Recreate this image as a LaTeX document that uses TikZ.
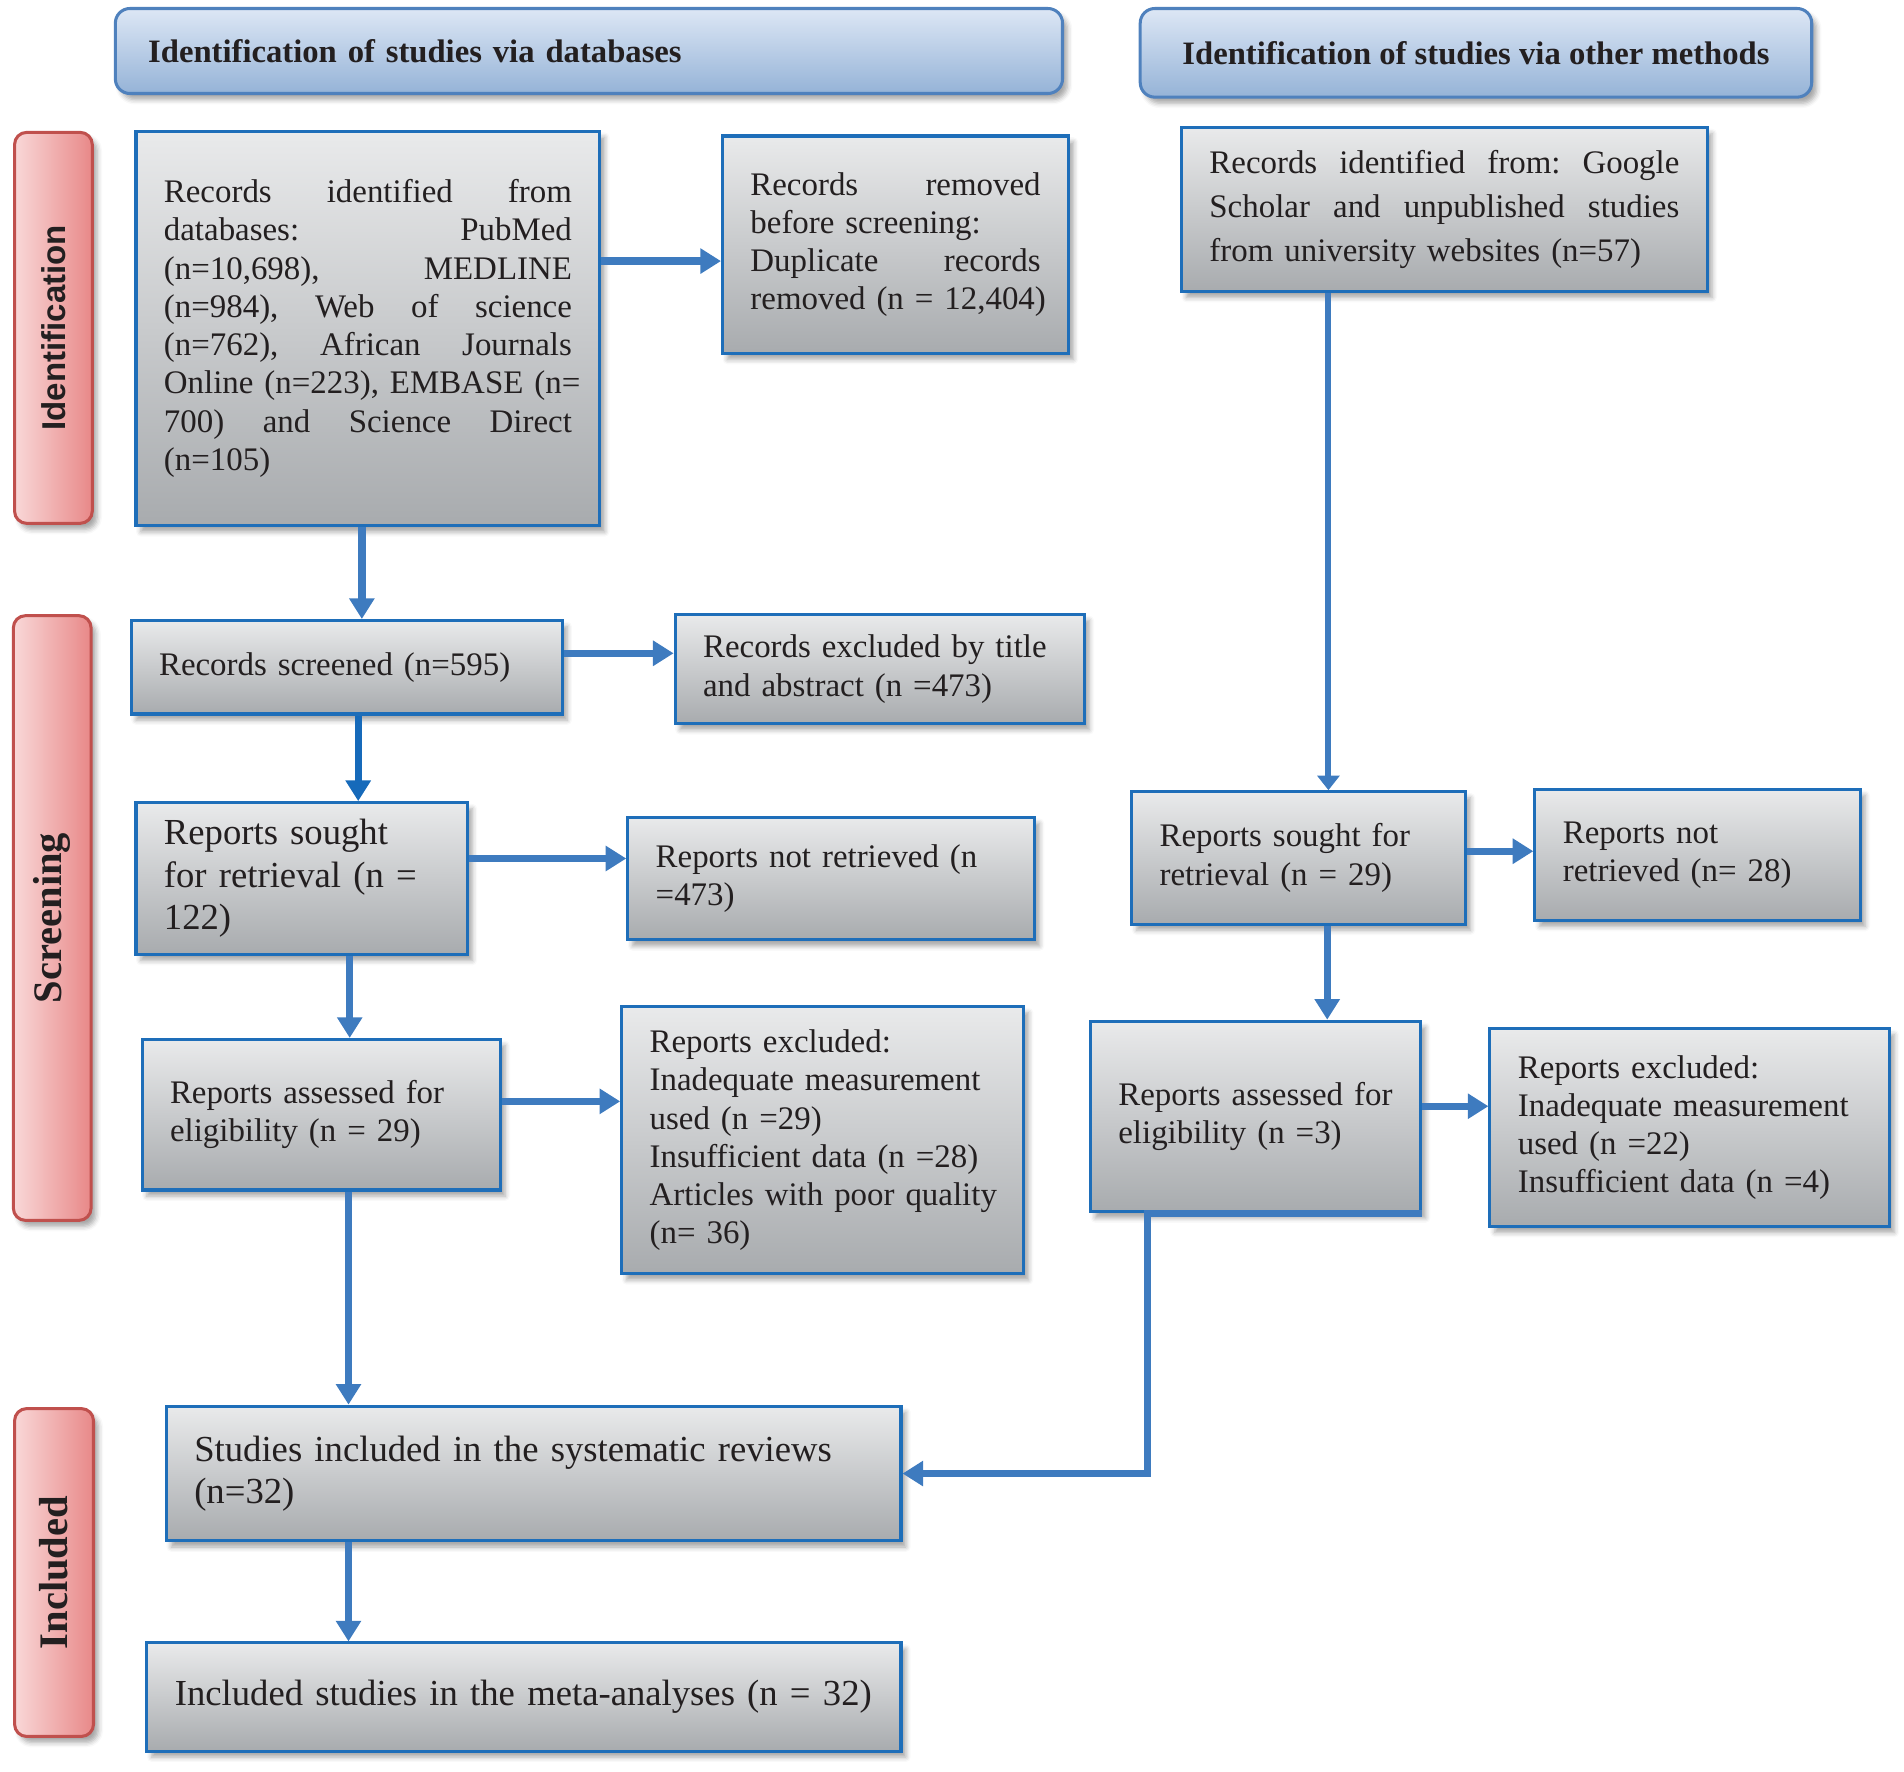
\documentclass[tikz,border=0pt]{standalone}
\usepackage{fontspec}
\setmainfont{Liberation Serif}
\newfontfamily\labsans{Liberation Sans}
\usetikzlibrary{shadows.blur,arrows.meta,calc}
\definecolor{boxline}{RGB}{30,110,185}
\definecolor{boxtop}{RGB}{233,234,235}
\definecolor{boxbot}{RGB}{168,171,174}
\definecolor{arrowblue}{RGB}{62,123,191}
\definecolor{arrowdark}{RGB}{22,106,186}
\definecolor{hdrline}{RGB}{79,129,189}
\definecolor{hdrtop}{RGB}{221,231,245}
\definecolor{hdrbot}{RGB}{149,179,215}
\definecolor{sideline}{RGB}{192,80,77}
\definecolor{sideleft}{RGB}{249,216,216}
\definecolor{sideright}{RGB}{232,136,136}
\definecolor{txt}{RGB}{35,31,32}
\newcommand\jl[2]{\leavevmode\hbox to #1{#2}}
\newcommand\lline[1]{\makebox[0pt][l]{#1}}
\hyphenpenalty=10000
\exhyphenpenalty=10000
\begin{document}
\begin{tikzpicture}[x=1pt,y=-1pt,
  shad/.style={blur shadow={shadow xshift=4pt,shadow yshift=-5pt,shadow blur radius=4pt,shadow opacity=35}},
  box/.style={shad,draw=boxline,line width=2.5pt,top color=boxtop,bottom color=boxbot,
    rectangle,inner xsep=23pt,inner ysep=2pt,anchor=center,text=txt,align=left,
    font=\fontsize{27.1}{31.5}\selectfont},
  bigbox/.style={box,font=\fontsize{30.2}{35}\selectfont},
  hdr/.style={shad,draw=hdrline,line width=2.5pt,top color=hdrtop,bottom color=hdrbot,
    rounded corners=12pt,inner xsep=27pt,inner ysep=2pt,text=txt,
    font=\fontsize{26.9}{31.5}\selectfont\bfseries},
  side/.style={shad,draw=sideline,line width=2.5pt,left color=sideleft,right color=sideright,
    rounded corners=10pt,inner sep=0pt},
  sidetext/.style={rotate=90,text=txt,inner sep=0pt},
  arr/.style={draw=arrowblue,line width=6pt,-{Triangle[length=17pt,width=20pt]}},
  arrthin/.style={draw=arrowblue,line width=5pt,-{Triangle[length=12pt,width=18pt]}}
]
\useasboundingbox (0,0) rectangle (1568,1458.5);

% headers
\node[hdr,minimum width=780pt,minimum height=70pt,text width=726pt,align=left] (h1) at (485,42) {Identification of studies via databases};
\node[hdr,minimum width=553pt,minimum height=73pt] (h2) at (1215.5,43.5) {Identification of studies via other methods};

% side labels
\node[side,minimum width=64pt,minimum height=322pt] (s1) at (44,270) {};
\node[sidetext,font=\fontsize{27.2}{30}\selectfont\labsans\bfseries] (s1t) at (s1.center) {Identification};
\node[side,minimum width=64pt,minimum height=498pt] (s2) at (43,756) {};
\node[sidetext,font=\fontsize{33.4}{36}\selectfont\bfseries] (s2t) at (s2.center) {Screening};
\node[side,minimum width=65pt,minimum height=270pt] (s3) at (44.5,1295) {};
\node[sidetext,font=\fontsize{33.4}{36}\selectfont\bfseries] (s3t) at (s3.center) {Included};

% boxes, left column
\node[box,minimum width=382pt,minimum height=325pt,text width=336pt] (db) at (303,270.5)
 {\jl{336pt}{Records\ \hfill identified\ \hfill from}\\
  \jl{336pt}{databases:\ \hfill PubMed}\\
  \jl{336pt}{(n=10,698),\ \hfill MEDLINE}\\
  \jl{336pt}{(n=984),\ \hfill Web\ \hfill of\ \hfill science}\\
  \jl{336pt}{(n=762),\ \hfill African\ \hfill Journals}\\
  \jl{336pt}{Online\ \hfill (n=223),\ \hfill EMBASE\ \hfill (n=}\\
  \jl{336pt}{700)\ \hfill and\ \hfill Science\ \hfill Direct}\\
  \lline{(n=105)}};
\node[box,minimum width=285pt,minimum height=179pt,text width=239pt] (rem) at (737.5,201.5)
 {\jl{239pt}{Records\ \hfill removed}\\
  \lline{before screening:}\\
  \jl{239pt}{Duplicate\ \hfill records}\\
  \jl{239pt}{removed\ \hfill (n\ \hfill =\ \hfill 12,404)}};
\node[box,minimum width=355pt,minimum height=77pt,text width=309pt] (scr) at (285.5,549.5)
 {\lline{Records screened (n=595)}};
\node[box,minimum width=337pt,minimum height=90pt,text width=291pt] (exT) at (724.5,551)
 {\lline{Records excluded by title}\\\lline{and abstract (n =473)}};
\node[bigbox,minimum width=273pt,minimum height=125pt,text width=227pt] (soL) at (248.5,723.5)
 {\lline{Reports sought}\\\lline{for retrieval (n =}\\\lline{122)}};
\node[box,minimum width=335pt,minimum height=101pt,text width=289pt] (nrL) at (684.5,723.5)
 {\lline{Reports not retrieved (n}\\\lline{=473)}};
\node[box,minimum width=295pt,minimum height=124pt,text width=249pt] (asL) at (264.5,918)
 {\lline{Reports assessed for}\\\lline{eligibility (n = 29)}};
\node[box,minimum width=331pt,minimum height=220pt,text width=285pt] (exL) at (677.5,939)
 {\lline{Reports excluded:}\\\lline{Inadequate measurement}\\\lline{used (n =29)}\\\lline{Insufficient data (n =28)}\\\lline{Articles with poor quality}\\\lline{(n= 36)}};
\node[bigbox,minimum width=605pt,minimum height=111pt,text width=559pt] (inc) at (439.5,1213.5)
 {\lline{Studies included in the systematic reviews}\\\lline{(n=32)}};
\node[bigbox,minimum width=621pt,minimum height=89pt,text width=575pt] (meta) at (431.5,1397.5)
 {\lline{Included studies in the meta-analyses (n = 32)}};

% boxes, right column
\node[box,minimum width=433pt,minimum height=135pt,text width=387pt,font=\fontsize{27.1}{36.5}\selectfont] (oth) at (1189.5,172.5)
 {\jl{387pt}{Records\ \hfill identified\ \hfill from:\ \hfill Google}\\
  \jl{387pt}{Scholar\ \hfill and\ \hfill unpublished\ \hfill studies}\\
  \lline{from university websites (n=57)}};
\node[box,minimum width=275pt,minimum height=109pt,text width=229pt] (soR) at (1069.5,706.5)
 {\lline{Reports sought for}\\\lline{retrieval (n = 29)}};
\node[box,minimum width=268pt,minimum height=108pt,text width=222pt] (nrR) at (1398,704)
 {\lline{Reports not}\\\lline{retrieved (n= 28)}};
\node[box,minimum width=272pt,minimum height=157pt,text width=226pt] (asR) at (1034,919.5)
 {\lline{Reports assessed for}\\\lline{eligibility (n =3)}};
\node[box,minimum width=329pt,minimum height=163pt,text width=283pt] (exR) at (1391.5,928.5)
 {\lline{Reports excluded:}\\\lline{Inadequate measurement}\\\lline{used (n =22)}\\\lline{Insufficient data (n =4)}};

% connectors
\coordinate (a1s) at ([xshift=-5pt]db.south);
\draw[arr] (a1s) -- (a1s |- scr.north);
\coordinate (a2e) at ([yshift=-13.5pt]rem.west);
\draw[arr] (a2e -| db.east) -- (a2e);
\coordinate (a3s) at ([yshift=11.5pt]scr.east);
\draw[arr] (a3s) -- (a3s -| exT.west);
\coordinate (a4s) at ([xshift=9.5pt]scr.south);
\draw[arr,draw=arrowdark] (a4s) -- (a4s |- soL.north);
\coordinate (a5s) at ([yshift=16.5pt]soL.east);
\draw[arr] (a5s) -- (a5s -| nrL.west);
\coordinate (a6s) at ([xshift=39.5pt]soL.south);
\draw[arr] (a6s) -- (a6s |- asL.north);
\coordinate (a7s) at ([yshift=11pt]asL.east);
\draw[arr] (a7s) -- (a7s -| exL.west);
\coordinate (a8s) at ([xshift=22.5pt]asL.south);
\draw[arr] (a8s) -- (a8s |- inc.north);
\coordinate (a9s) at ([xshift=-95.5pt]oth.south);
\draw[arrthin] (a9s) -- (a9s |- soR.north);
\coordinate (a10s) at ([yshift=5.5pt]soR.east);
\draw[arr] (a10s) -- (a10s -| nrR.west);
\coordinate (a11s) at ([xshift=23.5pt]soR.south);
\draw[arr] (a11s) -- (a11s |- asR.north);
\coordinate (a12s) at ([yshift=8.5pt]asR.east);
\draw[arr] (a12s) -- (a12s -| exR.west);
\coordinate (a13t) at ([xshift=48pt]asR.south west);
\draw[arr] (asR.south east) -- (a13t) |- (inc.east);
\coordinate (a14s) at ([xshift=-152.5pt]inc.south);
\draw[arr] (a14s) -- (a14s |- meta.north);
\end{tikzpicture}
\end{document}
